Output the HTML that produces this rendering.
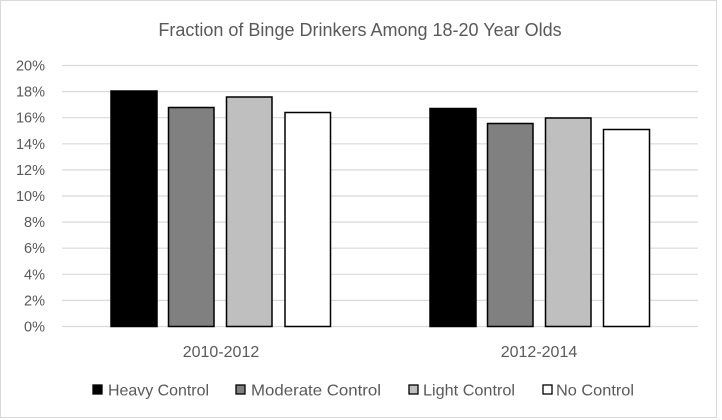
<!DOCTYPE html>
<html><head><meta charset="utf-8"><style>
html,body{margin:0;padding:0;background:#fff}
svg{display:block}
text{font-family:"Liberation Sans",sans-serif;fill:#595959}
</style></head><body>
<svg width="722" height="420" viewBox="0 0 722 420">
<rect x="0.5" y="0.5" width="716" height="417" fill="#fff" stroke="#d9d9d9"/>
<text x="360" y="36" font-size="18" text-anchor="middle">Fraction of Binge Drinkers Among 18-20 Year Olds</text>
<g stroke="#d9d9d9" stroke-width="1.2">
<line x1="62" x2="698" y1="65.5" y2="65.5"/>
<line x1="62" x2="698" y1="91.6" y2="91.6"/>
<line x1="62" x2="698" y1="117.7" y2="117.7"/>
<line x1="62" x2="698" y1="143.8" y2="143.8"/>
<line x1="62" x2="698" y1="169.9" y2="169.9"/>
<line x1="62" x2="698" y1="196" y2="196"/>
<line x1="62" x2="698" y1="222.1" y2="222.1"/>
<line x1="62" x2="698" y1="248.2" y2="248.2"/>
<line x1="62" x2="698" y1="274.3" y2="274.3"/>
<line x1="62" x2="698" y1="300.4" y2="300.4"/>
<line x1="62" x2="698" y1="326.5" y2="326.5"/>
</g>
<g font-size="14.5" text-anchor="end">
<text x="45" y="70.5">20%</text><text x="45" y="96.6">18%</text><text x="45" y="122.7">16%</text>
<text x="45" y="148.8">14%</text><text x="45" y="174.9">12%</text><text x="45" y="201">10%</text>
<text x="45" y="227.1">8%</text><text x="45" y="253.2">6%</text><text x="45" y="279.3">4%</text>
<text x="45" y="305.4">2%</text><text x="45" y="331.5">0%</text>
</g>
<g stroke="#000" stroke-width="1.5">
<rect x="111" y="91" width="46" height="235.5" fill="#000"/>
<rect x="168.5" y="107.5" width="45.5" height="219" fill="#808080"/>
<rect x="226.5" y="97" width="45.5" height="229.5" fill="#bfbfbf"/>
<rect x="285" y="112.5" width="45.5" height="214" fill="#fff"/>
<rect x="430" y="108.5" width="46" height="218" fill="#000"/>
<rect x="487.5" y="123.5" width="45.5" height="203" fill="#808080"/>
<rect x="545.5" y="118" width="45.5" height="208.5" fill="#bfbfbf"/>
<rect x="603.5" y="129.5" width="46" height="197" fill="#fff"/>
</g>
<g font-size="16" text-anchor="middle">
<text x="221" y="357">2010-2012</text>
<text x="539" y="357">2012-2014</text>
</g>
<g stroke="#000" stroke-width="1.3">
<rect x="93" y="385" width="9" height="9" fill="#000"/>
<rect x="236" y="385" width="9" height="9" fill="#808080"/>
<rect x="409" y="385" width="9" height="9" fill="#bfbfbf"/>
<rect x="543" y="385" width="9" height="9" fill="#fff"/>
</g>
<g font-size="16">
<text x="108" y="395.5" textLength="101" lengthAdjust="spacingAndGlyphs">Heavy Control</text>
<text x="251" y="395.5" textLength="130" lengthAdjust="spacingAndGlyphs">Moderate Control</text>
<text x="423" y="395.5" textLength="92" lengthAdjust="spacingAndGlyphs">Light Control</text>
<text x="556" y="395.5" textLength="78" lengthAdjust="spacingAndGlyphs">No Control</text>
</g>
</svg>
</body></html>
